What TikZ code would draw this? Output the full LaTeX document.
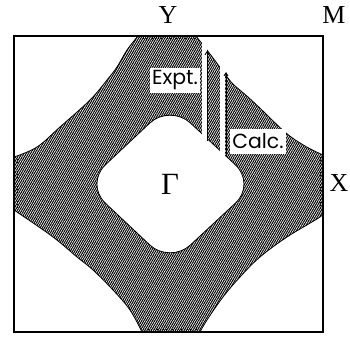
\documentclass[tikz,border=0pt]{standalone}
\usepackage{fontspec}
\setmainfont{Liberation Serif}
\newfontfamily\labfont{Poppins}
\usetikzlibrary{patterns.meta,arrows.meta}
\begin{document}
\begin{tikzpicture}[x=1bp,y=-1bp,
  band/.style={pattern={Lines[angle=60,distance=1.9pt,line width=1.05pt]},pattern color=black,draw=black,line width=0.8bp},
  lab/.style={fill=white,inner xsep=2.5bp,inner ysep=0bp,minimum height=25bp,font=\labfont\fontsize{20.5}{20.5}\selectfont},
  sym/.style={font=\fontsize{26}{26}\selectfont},
  arr/.style={line width=0.9bp,-{Straight Barb[length=3bp,width=4bp]}},
  edge/.style={dotted,line width=1bp}]
\useasboundingbox (0,0) rectangle (350,339);
% shaded band with Gamma pocket removed
\path[band,even odd rule] (140,36) -- (196,36)
  -- plot[smooth,tension=0.6] coordinates {(196,36)(210,54)(225,74)(233,84)(248,97)(264,112)(286,133)(305,146)(323,155)}
  -- (323,212)
  -- plot[smooth,tension=0.6] coordinates {(323,212)(320,217)(287,237)(260,257)(240,277)(223,297)(207,320)(200,332)}
  -- (142,332)
  -- plot[smooth,tension=0.6] coordinates {(142,332)(130,310)(113,290)(93,270)(77,257)(53,237)(17,212)(14,210)}
  -- (14,157)
  -- plot[smooth,tension=0.6] coordinates {(14,157)(37,147)(60,127)(90,100)(107,80)(117,67)(127,50)(138,36)}
  -- cycle
  [rounded corners=28bp] (170,104) -- (256,184) -- (170,264) -- (85,184) -- cycle;
% zone-edge dotted lines
\draw[edge] (143,38.5) -- (194,38.5);
\draw[edge] (145,329.5) -- (198,329.5);
\draw[edge] (17.5,159) -- (17.5,209);
\draw[edge] (320,157) -- (320,210);
% white strips beside arrows
\fill[white] (202,42) rectangle (207,141);
\fill[white] (220,60) rectangle (225,156);
% arrows
\coordinate (e0) at (207,141);
\coordinate (e1) at (207,51);
\coordinate (c0) at (226,154);
\coordinate (c1) at (226,72);
\draw[arr] (e0) -- (e1);
\draw[arr] (c0) -- (c1);
% labels
\node[lab] (expt) at (175,80) {Expt.};
\node[lab] (calc) at (258,141) {Calc.};
% frame
\draw[line width=1.3bp] (14,36) rectangle (323,332);
\node[sym] (Y) at (168,15) {Y};
\node[sym] (M) at (334,15) {M};
\node[sym] (X) at (339,183) {X};
\node[font=\fontsize{31}{31}\selectfont] (G) at (170,184) {Γ};
\end{tikzpicture}
\end{document}
